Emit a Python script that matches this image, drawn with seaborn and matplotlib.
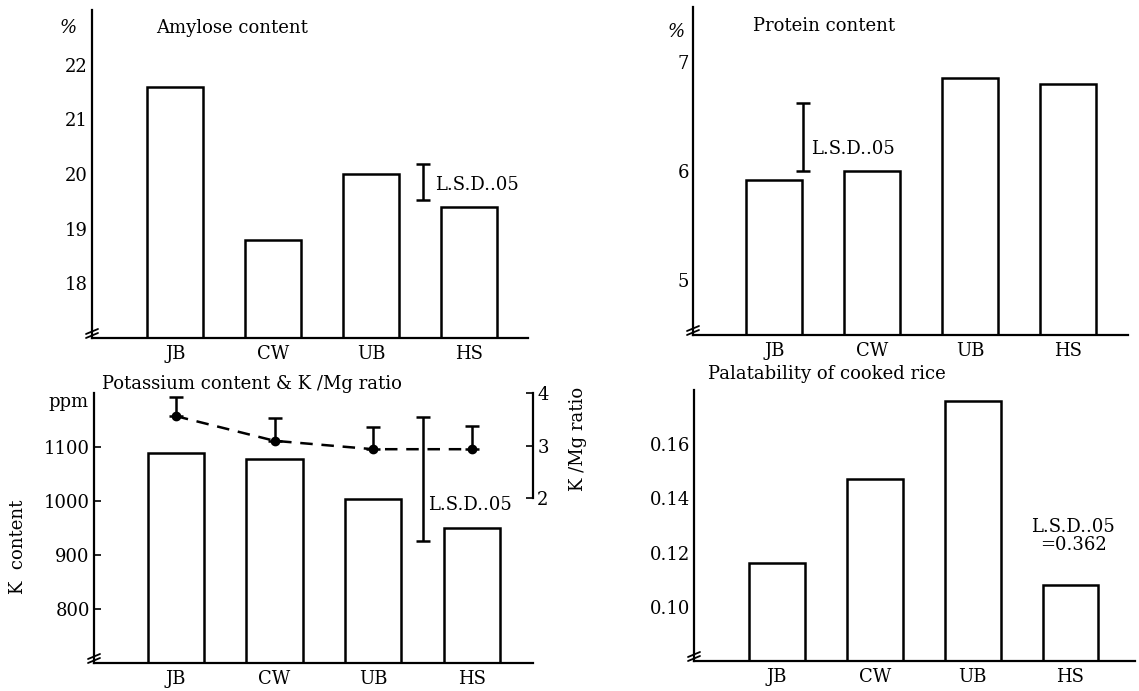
import numpy as np
import pandas as pd
import matplotlib
matplotlib.use("Agg")
import matplotlib.pyplot as plt
import seaborn as sns

# data
varieties = ["JB", "CW", "UB", "HS"]
amylose = [21.6, 18.8, 20.0, 19.4]           # %
protein = [5.92, 6.0, 6.85, 6.8]             # %
potassium = [1088, 1078, 1003, 950]          # ppm
kmg_ratio = [3.56, 3.09, 2.93, 2.93]
kmg_err = [0.36, 0.43, 0.42, 0.44]           # upward bars only
palatability = [0.116, 0.147, 0.176, 0.108]

lsd_amylose = (19.52, 20.18)
lsd_protein = (6.0, 6.62)
lsd_potassium = (926, 1156)

W, H = 1139, 691
sns.set_theme(style="white")
plt.rcParams["font.family"] = ["DejaVu Serif"]
plt.rcParams["axes.unicode_minus"] = False
for key in ["text.color", "axes.labelcolor", "xtick.color", "ytick.color"]:
    plt.rcParams[key] = "black"

TICK_FS = 13
LAB_FS = 13
BAR_LW = 1.8
BAR_W = 0.57

fig = plt.figure(figsize=(W / 100, H / 100), dpi=100)

# axes positions (left, bottom, width, height) in figure fractions
ax_tl = fig.add_axes([92 / W, 1 - 338 / H, 436 / W, 328 / H])
ax_tr = fig.add_axes([693 / W, 1 - 335 / H, 435 / W, 328 / H])
ax_bl = fig.add_axes([94 / W, 1 - 663 / H, 439 / W, 270 / H])
ax_br = fig.add_axes([694 / W, 1 - 661 / H, 441 / W, 271 / H])


def bars(ax, values, ylim, yticks, xlim, fmt=None):
    df = pd.DataFrame({"variety": varieties, "value": values})
    sns.barplot(data=df, x="variety", y="value", ax=ax, color="white",
                edgecolor="black", linewidth=BAR_LW, width=BAR_W, saturation=1)
    ax.set_ylim(*ylim)
    ax.set_xlim(*xlim)
    ax.set_yticks(yticks)
    if fmt:
        ax.set_yticklabels([fmt.format(t) for t in yticks])
    ax.set_xlabel("")
    ax.set_ylabel("")
    for side in ["top", "right"]:
        ax.spines[side].set_visible(False)
    for side in ["left", "bottom"]:
        ax.spines[side].set_color("black")
        ax.spines[side].set_linewidth(1.6)
    ax.tick_params(axis="y", direction="in", length=5, width=1.2,
                   color="black", labelsize=TICK_FS, pad=3)
    ax.tick_params(axis="x", length=0, labelsize=LAB_FS, pad=5)
    ax.set_facecolor("white")
    # axis break mark on the y axis near the bottom
    bb = ax.get_position()
    w, h = bb.width * W, bb.height * H
    for dy in (3, 7):
        ax.plot([-6 / w, 6 / w], [(dy - 3) / h, (dy + 2) / h], transform=ax.transAxes,
                color="black", lw=1.3, clip_on=False, zorder=5)


def lsd_bar(ax, x, lo, hi):
    mid = (lo + hi) / 2
    ax.errorbar([x], [mid], yerr=[[mid - lo], [hi - mid]], fmt="none",
                ecolor="black", elinewidth=1.8, capsize=5, capthick=1.8)


# --- top left: amylose ---
bars(ax_tl, amylose, (17.0, 23.0), [18, 19, 20, 21, 22], (-0.85, 3.6))
lsd_bar(ax_tl, 2.53, *lsd_amylose)
ax_tl.text(2.65, 19.8, "L.S.D..05", fontsize=LAB_FS, va="center", ha="left")
ax_tl.text(0.147, 0.945, "Amylose content", transform=ax_tl.transAxes,
           fontsize=LAB_FS, va="center", ha="left")
ax_tl.text(-0.055, 0.945, "%", transform=ax_tl.transAxes, fontsize=LAB_FS,
           va="center", ha="center", style="italic")

# --- top right: protein ---
bars(ax_tr, protein, (4.5, 7.5), [5, 6, 7], (-0.83, 3.61))
lsd_bar(ax_tr, 0.29, *lsd_protein)
ax_tr.text(0.37, 6.2, "L.S.D..05", fontsize=LAB_FS, va="center", ha="left")
ax_tr.text(0.138, 0.942, "Protein content", transform=ax_tr.transAxes,
           fontsize=LAB_FS, va="center", ha="left")
ax_tr.text(-0.039, 0.924, "%", transform=ax_tr.transAxes, fontsize=LAB_FS,
           va="center", ha="center", style="italic")

# --- bottom left: potassium + K/Mg ratio ---
bars(ax_bl, potassium, (700, 1200), [800, 900, 1000, 1100], (-0.83, 3.62))
lsd_bar(ax_bl, 2.5, *lsd_potassium)
ax_bl.text(2.56, 993, "L.S.D..05", fontsize=LAB_FS, va="center", ha="left")
ax_bl.text(0.018, 1.033, "Potassium content & K /Mg ratio", transform=ax_bl.transAxes,
           fontsize=LAB_FS, va="center", ha="left")
ax_bl.text(-0.059, 0.967, "ppm", transform=ax_bl.transAxes, fontsize=LAB_FS,
           va="center", ha="center")
ax_bl.set_ylabel("K  content", fontsize=LAB_FS)
ax_bl.yaxis.set_label_coords(-0.153, 0.43)

ax2 = ax_bl.twinx()
ax2.set_position(ax_bl.get_position())
ax2.errorbar(range(len(varieties)), kmg_ratio, yerr=[[0] * 4, kmg_err],
             fmt="o", color="black", ms=6, ecolor="black", elinewidth=1.8,
             capsize=5, capthick=1.8, zorder=4)
sns.lineplot(x=list(range(len(varieties))), y=kmg_ratio, ax=ax2, color="black",
             linestyle=(0, (5, 3.5)), linewidth=1.8, zorder=3)
ax2.set_ylim(-1.14, 4.0)
ax2.set_xlim(-0.83, 3.62)
ax2.set_yticks([2, 3, 4])
for side in ["top", "left", "bottom"]:
    ax2.spines[side].set_visible(False)
ax2.spines["right"].set_bounds(2, 4)
ax2.spines["right"].set_color("black")
ax2.spines["right"].set_linewidth(1.6)
ax2.tick_params(axis="y", direction="in", length=5, width=1.2, color="black",
                labelsize=TICK_FS, pad=3)
ax2.set_ylabel("K /Mg ratio", fontsize=LAB_FS)
ax2.yaxis.set_label_coords(1.082, 0.83)
ax2.grid(False)

# --- bottom right: palatability ---
bars(ax_br, palatability, (0.08, 0.18), [0.10, 0.12, 0.14, 0.16], (-0.85, 3.66),
     fmt="{:.2f}")
ax_br.text(3.03, 0.126, "L.S.D..05\n=0.362", fontsize=LAB_FS, va="center",
           ha="center", multialignment="center", linespacing=1.0)
ax_br.text(0.032, 1.059, "Palatability of cooked rice", transform=ax_br.transAxes,
           fontsize=LAB_FS, va="center", ha="left")

for ax in [ax_tl, ax_tr, ax_bl, ax_br]:
    ax.grid(False)

fig.savefig("out.png", dpi=100, facecolor="white")
